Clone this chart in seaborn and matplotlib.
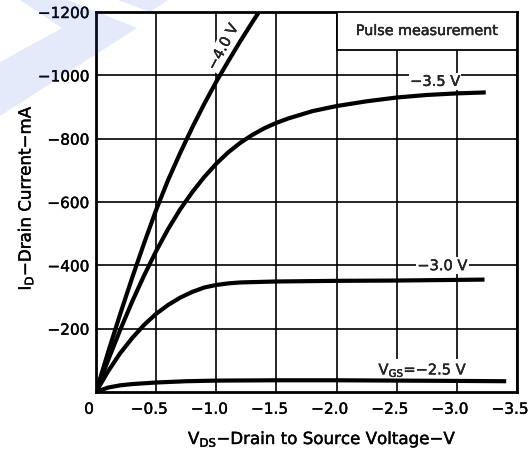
import numpy as np
import pandas as pd
import seaborn as sns
import matplotlib
matplotlib.use("Agg")
import matplotlib.pyplot as plt
import matplotlib.transforms as mtransforms
import matplotlib.patheffects as pe
from matplotlib.patches import Rectangle, Polygon

# ---- data (V_DS in V, I_D in mA) ----
vds_40 = [0, -0.1, -0.2, -0.3, -0.4, -0.5, -0.6, -0.7, -0.8, -0.9, -1.0, -1.1, -1.2, -1.3, -1.355]
id_40 = [0, -125, -245, -360, -470, -575, -670, -755, -835, -910, -980, -1045, -1108, -1168, -1200]

vds_35 = [0, -0.1, -0.2, -0.3, -0.4, -0.5, -0.6, -0.7, -0.8, -0.9, -1.0, -1.1, -1.2, -1.3, -1.4, -1.5,
          -1.6, -1.8, -2.0, -2.25, -2.5, -2.75, -3.0, -3.24]
id_35 = [0, -100, -195, -285, -368, -445, -515, -577, -631, -679, -721, -757, -787, -812, -833, -850,
         -864, -887, -903, -918, -930, -938, -943, -946]

vds_30 = [0, -0.1, -0.2, -0.3, -0.4, -0.5, -0.6, -0.7, -0.8, -0.9, -1.0, -1.1, -1.2, -1.5, -2.0, -2.5,
          -3.0, -3.23]
id_30 = [0, -65, -122, -170, -212, -247, -275, -298, -316, -330, -338, -343, -346, -349, -351, -352,
         -354, -355]

vds_25 = [0, -0.1, -0.2, -0.3, -0.5, -0.75, -1.0, -1.5, -2.0, -2.5, -3.0, -3.41]
id_25 = [0, -14, -21, -25, -30, -34, -36, -37, -37, -36, -35, -34]

x_ticks = [0, -0.5, -1.0, -1.5, -2.0, -2.5, -3.0, -3.5]
x_tick_labels = ["0", "\u22120.5", "\u22121.0", "\u22121.5", "\u22122.0", "\u22122.5", "\u22123.0", "\u22123.5"]
y_ticks = [-200, -400, -600, -800, -1000, -1200]
y_tick_labels = ["\u2212200", "\u2212400", "\u2212600", "\u2212800", "\u22121000", "\u22121200"]

series = [("-4.0", vds_40, id_40), ("-3.5", vds_35, id_35), ("-3.0", vds_30, id_30), ("-2.5", vds_25, id_25)]
df = pd.concat([pd.DataFrame({"VDS": v, "ID": i, "VGS": g}) for g, v, i in series], ignore_index=True)

sns.set_theme(style="white")
plt.rcParams['font.family'] = ['DejaVu Sans']

W, H = 532, 459
fig = plt.figure(figsize=(W / 100, H / 100), dpi=100)
fig.patch.set_facecolor("white")
ax = fig.add_axes([96 / W, 67 / H, 421 / W, 380 / H])
ax.set_facecolor("white")

for g, sub in df.groupby("VGS", sort=False):
    sns.lineplot(data=sub, x="VDS", y="ID", color="black", lw=3.0, ax=ax,
                 sort=False, estimator=None, zorder=4)
for ln in ax.lines:
    ln.set_solid_joinstyle("round")
    ln.set_solid_capstyle("butt")

ax.set_xlim(0, -3.5)
ax.set_ylim(0, -1200)
ax.set_xticks(x_ticks)
ax.set_xticklabels(x_tick_labels, fontsize=11)
ax.set_yticks(y_ticks)
ax.set_yticklabels(y_tick_labels, fontsize=11)
ax.tick_params(axis="both", length=0, colors="black")
ax.tick_params(axis="x", pad=7)
ax.tick_params(axis="y", pad=5)
shift = mtransforms.ScaledTranslation(-7 / 100, 0, fig.dpi_scale_trans)
for lab in ax.get_xticklabels():
    lab.set_transform(lab.get_transform() + shift)
ax.grid(True, color="black", lw=1.2)
ax.set_axisbelow(True)
for s in ax.spines.values():
    s.set_color("black")
    s.set_linewidth(2)

ax.set_xlabel("V$_{\\mathregular{DS}}$\u2212Drain to Source Voltage\u2212V", fontsize=12, color="black")
ax.set_ylabel("I$_{\\mathregular{D}}$\u2212Drain Current\u2212mA", fontsize=12, color="black")
ax.xaxis.label.set_va("center")
ax.yaxis.label.set_va("center")
ax.xaxis.set_label_coords((322 - 96) / 421, (392 - 439) / 380)
ax.yaxis.set_label_coords((25 - 96) / 421, (392 - 198) / 380)

box = dict(facecolor="white", edgecolor="none", pad=0.8)
ax.text(-1.055, -1090, "\u22124.0 V", rotation=62, ha="center", va="center", fontsize=10.5, bbox=box, zorder=3.5)
ax.text(-2.82, -981, "\u22123.5 V", ha="center", va="center", fontsize=10.5, bbox=box, zorder=3.5)
ax.text(-2.88, -399, "\u22123.0 V", ha="center", va="center", fontsize=10.5, bbox=box, zorder=3.5)
ax.text(-2.72, -70, "V$_{\\mathregular{GS}}$=\u22122.5 V", ha="center", va="center", fontsize=10.5,
        bbox=box, zorder=3.5)

ax.add_patch(Rectangle((4 / 7, 0.9), 3 / 7, 0.1, transform=ax.transAxes, facecolor="white",
                       edgecolor="black", lw=1.3, zorder=5))
ax.text(0.5 * (4 / 7 + 1), 0.95, "Pulse measurement", transform=ax.transAxes, ha="center", va="center",
        fontsize=10.3, zorder=6)

# slightly heavier text, like the scanned original
stroke = [pe.withStroke(linewidth=0.3, foreground="black")]
for t in ax.texts + ax.get_xticklabels() + ax.get_yticklabels() + [ax.xaxis.label, ax.yaxis.label]:
    t.set_path_effects(stroke)

# light blue watermark (figure pixel coords -> fraction)
def P(pts):
    return [(x / W, 1 - y / H) for x, y in pts]

wm = "#3c64dc"
fig.patches.append(Polygon(P([(0, 0), (68, 0), (137, 28), (0, 116), (0, 62), (62, 28), (20, 0)]),
                           closed=True, transform=fig.transFigure, facecolor=wm, alpha=0.13,
                           edgecolor="none", zorder=10))
fig.patches.append(Polygon(P([(118, 0), (168, 0), (150, 12)]),
                           closed=True, transform=fig.transFigure, facecolor=wm, alpha=0.13,
                           edgecolor="none", zorder=10))

fig.savefig("out.png", dpi=100)
